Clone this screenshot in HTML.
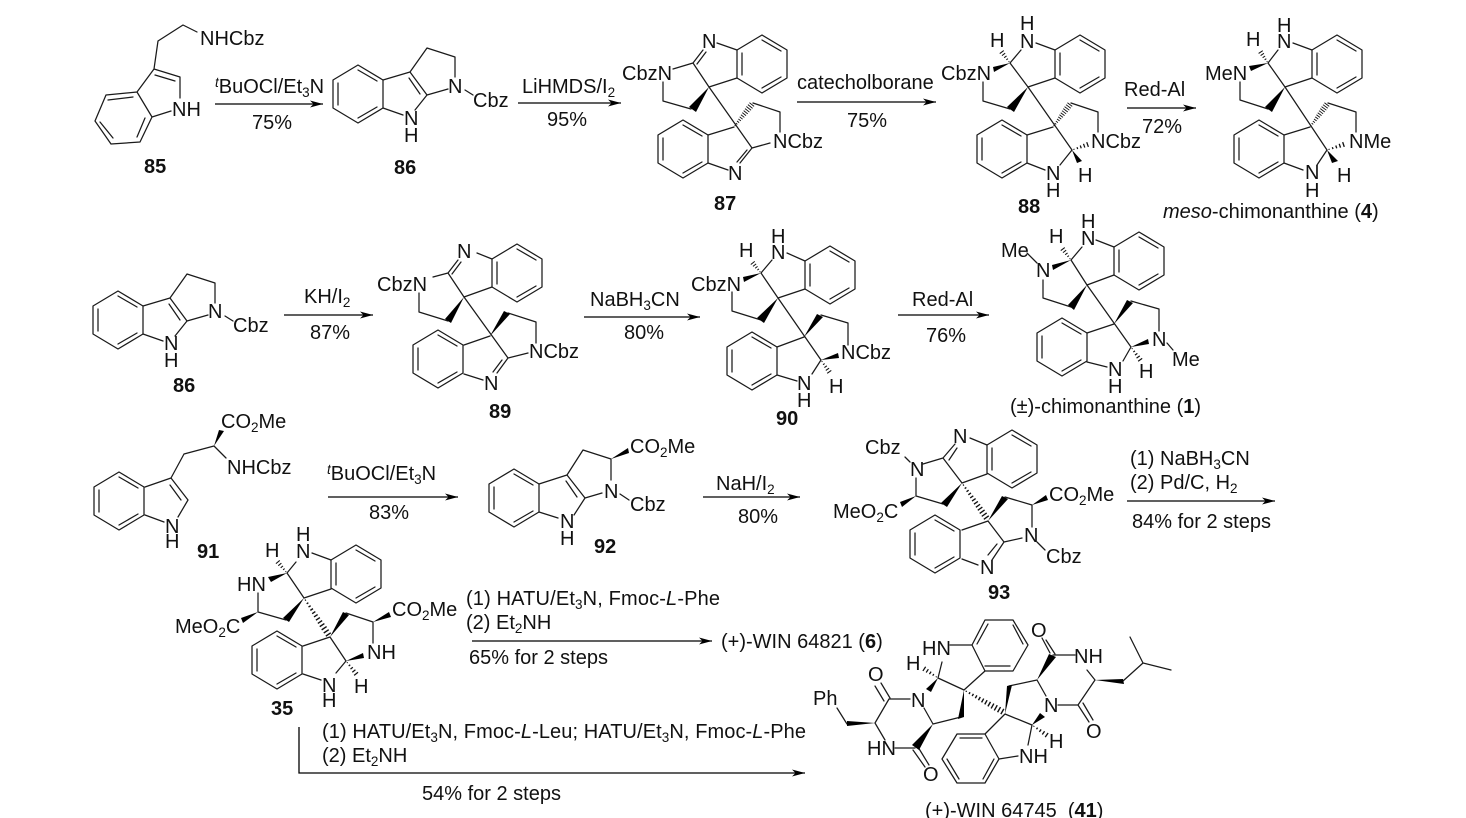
<!DOCTYPE html>
<html>
<head>
<meta charset="utf-8">
<style>
html,body{margin:0;padding:0;background:#fff;width:1466px;height:818px;overflow:hidden}
svg{display:block}
text{font-family:"Liberation Sans",Arial,sans-serif;font-size:20px;fill:#111}
.b{font-weight:bold}
.s{font-size:13.5px}
.bd{fill:none;stroke:#1a1a1a;stroke-width:1.25;stroke-linecap:round;stroke-linejoin:round}
.ar{fill:none;stroke:#000;stroke-width:1.3}
polygon{fill:#000}
</style>
</head>
<body>
<svg width="1466" height="818" viewBox="0 0 1466 818" xmlns="http://www.w3.org/2000/svg">
<defs>
<marker id="a" markerUnits="userSpaceOnUse" markerWidth="15" markerHeight="9" refX="13" refY="4.5" orient="auto"><path d="M0,1 L13,4.5 L0,8 L3.5,4.5Z" fill="#000"/></marker>
<path id="b" class="bd" d="M0,0 L25,-15 L50,0 L50,28 L25,43 L0,28Z M25,-10 L44,1 M25,38 L44,27 M5,3 L5,25"/>
<path id="h" fill="#111" d="M.08,-.5H.15V.5H.08Z M.28,-1H.35V1H.28Z M.48,-1.5H.55V1.5H.48Z M.68,-2H.75V2H.68Z M.88,-2.5H.95V2.5H.88Z"/>
<path id="hl" fill="#111" d="M.04,-.6H.07V.6H.04Z M.12,-1H.15V1H.12Z M.2,-1.3H.23V1.3H.2Z M.28,-1.6H.31V1.6H.28Z M.36,-1.9H.39V1.9H.36Z M.44,-2.2H.47V2.2H.44Z M.52,-2.4H.55V2.4H.52Z M.6,-2.6H.63V2.6H.6Z M.68,-2.8H.71V2.8H.68Z M.76,-3H.79V3H.76Z M.84,-3H.87V3H.84Z M.92,-3H.95V3H.92Z"/>
<path id="p86" class="bd" d="M383,80 L410,72 L427,95 L415,110 M383,108 L403,115 M409,78 L420,94 M410,72 L427,48 L455,57 L455,77 M427,95 L448,89 M465,90 L473,95"/>
</defs>

<!-- 85 -->
<path class="bd" d="M106,95 L137,92 L152,117 L140,142 L111,144 L95,121Z M108,100 L133,97 M145,118 L137,137 M100,122 L113,138 M137,92 L154,69 L180,77 L180,98 M152,117 L171,111 M155,75 L175,81 M154,69 L158,41 L183,25 L197,32"/>
<text x="200" y="45">NHCbz</text>
<text x="172" y="116">NH</text>
<text class="b" x="144" y="173">85</text>
<text x="215" y="93"><tspan font-style="italic" class="s" dy="-6">t</tspan><tspan dy="6">BuOCl/Et</tspan><tspan class="s" dy="4">3</tspan><tspan dy="-4">N</tspan></text>
<line class="ar" x1="215" y1="104" x2="323" y2="104" marker-end="url(#a)"/>
<text x="252" y="129">75%</text>

<!-- 86 -->
<use href="#b" x="333" y="80"/><use href="#p86"/>
<text x="404" y="125">N</text><text x="404" y="142">H</text>
<text x="448" y="93">N</text><text x="473" y="107">Cbz</text>
<text class="b" x="394" y="174">86</text>
<text x="522" y="93">LiHMDS/I<tspan class="s" dy="4">2</tspan></text>
<line class="ar" x1="518" y1="103" x2="621" y2="103" marker-end="url(#a)"/>
<text x="547" y="126">95%</text>

<!-- 87 -->
<use href="#b" x="737" y="50"/><use href="#b" x="658" y="135"/>
<path class="bd" d="M737,78 L709,87 L693,63 L673,69 M693,63 L703,50 M697,64 L706,52 M717,43 L737,50 M663,82 L663,101 L691,109 M709,87 L752,148 M734,127 L708,135 M753,103 L780,112 L780,132 M752,148 L770,143 M752,148 L740,163 M747,150 L737,162 M708,163 L728,170"/>
<polygon points="709,87 689,107 696,112"/>
<use href="#hl" transform="matrix(19,-24,.78,.62,734,127)"/>
<text x="702" y="48">N</text>
<text x="622" y="80">CbzN</text>
<text x="773" y="148">NCbz</text>
<text x="728" y="180">N</text>
<text class="b" x="714" y="210">87</text>
<text x="797" y="89">catecholborane</text>
<line class="ar" x1="797" y1="102" x2="936" y2="102" marker-end="url(#a)"/>
<text x="847" y="127">75%</text>

<!-- 88 -->
<use href="#b" x="1055" y="50"/><use href="#b" x="977" y="135"/>
<path class="bd" d="M1055,78 L1028,87 L1010,63 L1021,50 M1036,43 L1055,50 M983,82 L983,101 L1010,109 M1028,87 L1072,150 M1053,127 L1027,135 M1071,103 L1098,112 L1098,132 M1072,150 L1060,165 M1027,163 L1045,170"/>
<polygon points="1028,87 1007,107 1014,112"/><polygon points="1010,63 993,67 994,72"/><polygon points="1072,150 1077,163 1082,161"/>
<use href="#hl" transform="matrix(18,-24,.8,.6,1053,127)"/>
<use href="#h" transform="matrix(-9,-12,.8,-.6,1010,63)"/>
<use href="#h" transform="matrix(17,-6,.33,.94,1072,150)"/>
<text x="990" y="47">H</text><text x="1020" y="30">H</text><text x="1020" y="48">N</text>
<text x="941" y="80">CbzN</text>
<text x="1091" y="148">NCbz</text>
<text x="1078" y="182">H</text>
<text x="1046" y="180">N</text><text x="1046" y="197">H</text>
<text class="b" x="1018" y="213">88</text>
<text x="1124" y="96">Red-Al</text>
<line class="ar" x1="1127" y1="108" x2="1196" y2="108" marker-end="url(#a)"/>
<text x="1142" y="133">72%</text>

<!-- 4 -->
<use href="#b" x="1312" y="50"/><use href="#b" x="1234" y="135"/>
<path class="bd" d="M1312,78 L1285,87 L1268,63 L1278,50 M1293,43 L1312,50 M1240,82 L1240,100 L1268,109 M1285,87 L1327,150 M1310,127 L1284,135 M1328,103 L1356,112 L1356,132 M1327,150 L1317,165 M1284,163 L1303,170"/>
<polygon points="1285,87 1265,107 1272,112"/><polygon points="1268,63 1249,66 1251,71"/><polygon points="1327,150 1332,163 1338,161"/>
<use href="#hl" transform="matrix(18,-24,.8,.6,1310,127)"/>
<use href="#h" transform="matrix(-8,-12,.83,-.55,1268,63)"/>
<use href="#h" transform="matrix(18,-6,.32,.95,1327,150)"/>
<text x="1246" y="46">H</text><text x="1277" y="32">H</text><text x="1277" y="48">N</text>
<text x="1205" y="80">MeN</text>
<text x="1349" y="148">NMe</text>
<text x="1337" y="182">H</text>
<text x="1305" y="179">N</text><text x="1305" y="197">H</text>
<text x="1163" y="218"><tspan font-style="italic">meso</tspan>-chimonanthine (<tspan class="b">4</tspan>)</text>

<!-- 86 second -->
<use href="#b" x="93" y="306"/><use href="#p86" transform="translate(-240,226)"/>
<text x="164" y="350">N</text><text x="164" y="367">H</text>
<text x="208" y="318">N</text><text x="233" y="332">Cbz</text>
<text class="b" x="173" y="392">86</text>
<text x="304" y="303">KH/I<tspan class="s" dy="4">2</tspan></text>
<line class="ar" x1="284" y1="315" x2="373" y2="315" marker-end="url(#a)"/>
<text x="310" y="339">87%</text>

<!-- 89 -->
<use href="#b" x="492" y="259"/><use href="#b" x="413" y="345"/>
<path class="bd" d="M492,287 L464,297 L448,273 L433,277 M448,273 L458,260 M452,274 L461,262 M477,253 L492,259 M419,293 L419,312 L448,321 M464,297 L508,358 M490,336 L464,345 M508,313 L536,322 L536,343 M508,358 L528,353 M508,358 L497,373 M502,360 L493,372 M464,374 L483,380"/>
<polygon points="464,297 445,319 451,323"/><polygon points="490,336 504,311 510,314"/>
<text x="457" y="258">N</text>
<text x="377" y="291">CbzN</text>
<text x="529" y="358">NCbz</text>
<text x="484" y="390">N</text>
<text class="b" x="489" y="418">89</text>
<text x="590" y="306">NaBH<tspan class="s" dy="4">3</tspan><tspan dy="-4">CN</tspan></text>
<line class="ar" x1="584" y1="317" x2="700" y2="317" marker-end="url(#a)"/>
<text x="624" y="339">80%</text>

<!-- 90 -->
<use href="#b" x="805" y="261"/><use href="#b" x="727" y="347"/>
<path class="bd" d="M805,289 L778,298 L761,273 L772,260 M787,253 L805,261 M732,292 L732,311 L761,320 M778,298 L821,360 M804,337 L777,347 M821,315 L848,323 L848,345 M821,360 L812,374 M777,375 L797,381"/>
<polygon points="778,298 757,318 764,323"/><polygon points="804,337 817,314 823,317"/><polygon points="761,273 743,277 744,282"/><polygon points="821,360 838,353 839,358"/>
<use href="#h" transform="matrix(-9,-11,.79,-.64,761,273)"/>
<use href="#h" transform="matrix(9,13,-.82,.57,821,360)"/>
<text x="739" y="257">H</text><text x="771" y="243">H</text><text x="771" y="259">N</text>
<text x="691" y="291">CbzN</text>
<text x="841" y="359">NCbz</text>
<text x="829" y="393">H</text>
<text x="797" y="390">N</text><text x="797" y="407">H</text>
<text class="b" x="776" y="425">90</text>
<text x="912" y="306">Red-Al</text>
<line class="ar" x1="898" y1="315" x2="989" y2="315" marker-end="url(#a)"/>
<text x="926" y="342">76%</text>

<!-- 1 -->
<use href="#b" x="1114" y="247"/><use href="#b" x="1037" y="333"/>
<path class="bd" d="M1114,275 L1087,285 L1071,260 L1082,247 M1096,240 L1114,247 M1027,253 L1037,263 M1043,280 L1043,298 L1071,307 M1087,285 L1131,347 M1114,324 L1087,333 M1131,301 L1159,309 L1159,331 M1131,347 L1123,361 M1087,362 L1107,367 M1167,343 L1173,350"/>
<polygon points="1087,285 1068,305 1074,310"/><polygon points="1114,324 1127,300 1133,303"/><polygon points="1071,260 1052,265 1053,270"/><polygon points="1131,347 1148,339 1149,344"/>
<use href="#h" transform="matrix(-9,-12,.8,-.6,1071,260)"/>
<use href="#h" transform="matrix(10,14,-.81,.58,1131,347)"/>
<text x="1049" y="243">H</text><text x="1081" y="228">H</text><text x="1081" y="245">N</text>
<text x="1001" y="257">Me</text>
<text x="1036" y="277">N</text>
<text x="1152" y="346">N</text>
<text x="1172" y="366">Me</text>
<text x="1139" y="378">H</text>
<text x="1108" y="376">N</text><text x="1108" y="393">H</text>
<text x="1010" y="413">(±)-chimonanthine (<tspan class="b">1</tspan>)</text>

<!-- 91 -->
<use href="#b" x="94" y="487"/>
<path class="bd" d="M145,487 L171,478 L188,500 L178,517 M145,515 L164,522 M170,485 L181,500 M171,478 L184,454 L214,446 L226,458"/>
<polygon points="214,446 219,430 224,431"/>
<text x="221" y="428">CO<tspan class="s" dy="4">2</tspan><tspan dy="-4">Me</tspan></text>
<text x="227" y="474">NHCbz</text>
<text x="165" y="533">N</text><text x="165" y="548">H</text>
<text class="b" x="197" y="558">91</text>
<text x="327" y="480"><tspan font-style="italic" class="s" dy="-6">t</tspan><tspan dy="6">BuOCl/Et</tspan><tspan class="s" dy="4">3</tspan><tspan dy="-4">N</tspan></text>
<line class="ar" x1="328" y1="497" x2="458" y2="497" marker-end="url(#a)"/>
<text x="369" y="519">83%</text>

<!-- 92 -->
<use href="#b" x="489" y="484"/>
<path class="bd" d="M539,484 L567,475 L585,498 L574,515 M539,512 L558,518 M566,481 L577,497 M567,475 L583,450 L611,459 L611,480 M585,498 L602,493 M620,494 L629,500"/>
<polygon points="611,459 628,448 629,453"/>
<text x="630" y="453">CO<tspan class="s" dy="4">2</tspan><tspan dy="-4">Me</tspan></text>
<text x="604" y="498">N</text><text x="630" y="511">Cbz</text>
<text x="560" y="528">N</text><text x="560" y="545">H</text>
<text class="b" x="594" y="553">92</text>
<text x="716" y="490">NaH/I<tspan class="s" dy="4">2</tspan></text>
<line class="ar" x1="703" y1="497" x2="800" y2="497" marker-end="url(#a)"/>
<text x="738" y="523">80%</text>

<!-- 93 -->
<use href="#b" x="987" y="445"/><use href="#b" x="910" y="530"/>
<path class="bd" d="M987,474 L962,483 L943,458 L923,464 M943,458 L955,444 M949,460 L957,448 M970,438 L987,445 M905,457 L910,462 M916,478 L916,496 L943,504 M988,521 L962,530 M988,521 L1004,542 L1022,538 M1004,542 L992,560 M997,544 L988,555 M1005,497 L1032,505 L1032,527 M962,559 L978,565 M1037,542 L1045,550"/>
<polygon points="962,483 941,503 947,507"/><polygon points="916,496 900,502 902,507"/><polygon points="988,521 1002,496 1008,499"/><polygon points="1032,505 1046,495 1048,500"/>
<use href="#hl" transform="matrix(26,37,-.82,.58,962,483)"/>
<text x="953" y="443">N</text>
<text x="865" y="454">Cbz</text>
<text x="910" y="476">N</text>
<text x="833" y="518">MeO<tspan class="s" dy="4">2</tspan><tspan dy="-4">C</tspan></text>
<text x="1049" y="501">CO<tspan class="s" dy="4">2</tspan><tspan dy="-4">Me</tspan></text>
<text x="1024" y="542">N</text>
<text x="1046" y="563">Cbz</text>
<text x="980" y="574">N</text>
<text class="b" x="988" y="599">93</text>
<text x="1130" y="465">(1) NaBH<tspan class="s" dy="4">3</tspan><tspan dy="-4">CN</tspan></text>
<text x="1130" y="489">(2) Pd/C, H<tspan class="s" dy="4">2</tspan></text>
<line class="ar" x1="1127" y1="501" x2="1275" y2="501" marker-end="url(#a)"/>
<text x="1132" y="528">84% for 2 steps</text>

<!-- 35 -->
<use href="#b" x="331" y="560"/><use href="#b" x="252" y="646"/>
<path class="bd" d="M331,589 L304,598 L287,573 L296,562 M312,553 L331,560 M258,593 L258,612 L286,620 M330,637 L303,646 M330,637 L346,661 L336,673 M346,613 L373,622 L373,643 M303,674 L321,680"/>
<polygon points="304,598 283,618 289,622"/><polygon points="287,573 268,577 271,582"/><polygon points="258,612 241,618 243,623"/><polygon points="330,637 343,612 349,615"/><polygon points="373,622 389,612 391,617"/><polygon points="346,661 363,653 364,658"/>
<use href="#h" transform="matrix(-10,-12,.77,-.64,287,573)"/>
<use href="#hl" transform="matrix(26,39,-.83,.55,304,598)"/>
<use href="#h" transform="matrix(11,14,-.78,.61,346,661)"/>
<text x="265" y="557">H</text><text x="296" y="541">H</text><text x="296" y="558">N</text>
<text x="237" y="591">HN</text>
<text x="175" y="633">MeO<tspan class="s" dy="4">2</tspan><tspan dy="-4">C</tspan></text>
<text x="392" y="616">CO<tspan class="s" dy="4">2</tspan><tspan dy="-4">Me</tspan></text>
<text x="367" y="659">NH</text>
<text x="354" y="693">H</text>
<text x="322" y="692">N</text><text x="322" y="707">H</text>
<text class="b" x="271" y="715">35</text>

<text x="466" y="605" textLength="254">(1) HATU/Et<tspan class="s" dy="4">3</tspan><tspan dy="-4">N, Fmoc-</tspan><tspan font-style="italic">L</tspan>-Phe</text>
<text x="466" y="629">(2) Et<tspan class="s" dy="4">2</tspan><tspan dy="-4">NH</tspan></text>
<line class="ar" x1="472" y1="641" x2="712" y2="641" marker-end="url(#a)"/>
<text x="469" y="664">65% for 2 steps</text>
<text x="721" y="648">(+)-WIN 64821 (<tspan class="b">6</tspan>)</text>

<text x="322" y="738" textLength="484">(1) HATU/Et<tspan class="s" dy="4">3</tspan><tspan dy="-4">N, Fmoc-</tspan><tspan font-style="italic">L</tspan>-Leu; HATU/Et<tspan class="s" dy="4">3</tspan><tspan dy="-4">N, Fmoc-</tspan><tspan font-style="italic">L</tspan>-Phe</text>
<text x="322" y="762">(2) Et<tspan class="s" dy="4">2</tspan><tspan dy="-4">NH</tspan></text>
<polyline class="ar" points="299,727 299,773 805,773" marker-end="url(#a)"/>
<text x="422" y="800">54% for 2 steps</text>

<!-- 41 -->
<path class="bd" d="M985,620 L1013,620 L1028,645 L1013,671 L985,671 L972,645Z M977,644 L988,624 M1013,625 L1023,644 M985,666 L1010,666 M950,645 L972,645 M964,690 L985,671 M964,690 L938,678 L942,662 M910,699 L889,699 L875,723 L885,740 M847,724 L837,708 M890,698 L881,683 M884,701 L875,686 M895,748 L915,748 M913,750 L925,767 M918,747 L929,765 M933,724 L924,708 M933,724 L961,717 M1005,714 L985,734 M1005,714 L1032,725 L1028,745 M1009,686 L1037,680 L1046,696 M1053,655 L1075,655 M1050,653 L1042,638 M1055,654 L1046,640 M1087,670 L1095,680 M1123,681 L1143,663 L1130,637 M1143,663 L1171,670 M1095,680 L1078,705 L1058,705 M1078,705 L1089,722 M1083,703 L1093,720 M985,734 L957,734 L942,759 L957,783 L985,783 L999,759Z M960,738 L982,738 M947,759 L959,779 M994,759 L983,779 M999,759 L1018,756"/>
<polygon points="938,678 926,689 931,692"/><polygon points="875,723 847,721 847,726"/><polygon points="933,724 912,745 919,750"/><polygon points="964,690 958,719 964,717"/><polygon points="1005,714 1007,686 1012,685"/><polygon points="1037,680 1049,654 1056,657"/><polygon points="1095,680 1123,679 1124,684"/><polygon points="1032,725 1040,713 1045,717"/>
<use href="#h" transform="matrix(-15,-10,.55,-.83,938,678)"/>
<use href="#hl" transform="matrix(41,23,-.49,.87,964,690)"/>
<use href="#h" transform="matrix(16,11,-.57,.82,1032,725)"/>
<text x="922" y="655">HN</text>
<text x="906" y="670">H</text>
<text x="868" y="681">O</text>
<text x="911" y="707">N</text>
<text x="813" y="705">Ph</text>
<text x="867" y="755">HN</text>
<text x="923" y="781">O</text>
<text x="1031" y="637">O</text>
<text x="1074" y="663">NH</text>
<text x="1044" y="712">N</text>
<text x="1086" y="738">O</text>
<text x="1049" y="748">H</text>
<text x="1019" y="763">NH</text>
<text x="925" y="817">(+)-WIN 64745 &#160;(<tspan class="b">41</tspan>)</text>
</svg>
</body>
</html>
